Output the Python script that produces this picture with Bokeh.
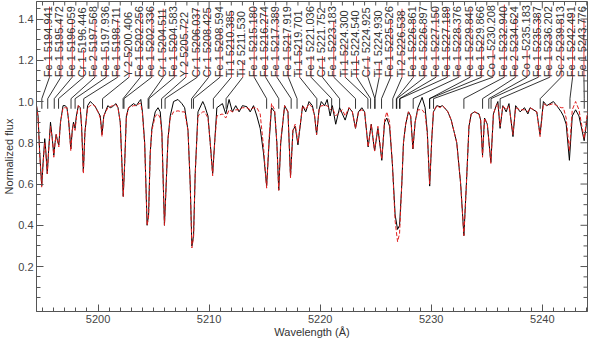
import numpy as np
from bokeh.plotting import figure
from bokeh.models import (Range1d, FixedTicker, SingleIntervalTicker,
                          PrintfTickFormatter, ColumnDataSource)
from bokeh.core.properties import value
from bokeh.embed import file_html
from bokeh.resources import INLINE

# ---------------- data ----------------
wavelength = [
    5194.46, 5194.60, 5194.75, 5194.93, 5195.05, 5195.20, 5195.30, 5195.43, 5195.55, 5195.72,
    5195.88, 5196.02, 5196.13, 5196.23, 5196.35, 5196.47, 5196.62, 5196.85, 5197.05, 5197.20,
    5197.35, 5197.55, 5197.68, 5197.79, 5197.93, 5198.05, 5198.23, 5198.40, 5198.52, 5198.68,
    5198.82, 5199.06, 5199.30, 5199.50, 5199.70, 5200.00, 5200.20, 5200.36, 5200.52, 5200.88,
    5201.10, 5201.30, 5201.62, 5201.80, 5202.00, 5202.15, 5202.27, 5202.40, 5202.55, 5202.75,
    5203.20, 5203.45, 5203.70, 5203.85, 5204.00, 5204.20, 5204.42, 5204.55, 5204.70, 5204.85,
    5205.15, 5205.40, 5205.60, 5205.75, 5205.90, 5205.98, 5206.10, 5206.30, 5206.50, 5206.80,
    5207.20, 5207.55, 5207.80, 5208.10, 5208.30, 5208.45, 5208.60, 5208.75, 5209.00, 5209.43,
    5209.60, 5209.90, 5210.10, 5210.32, 5210.50, 5210.70, 5211.20, 5211.50, 5211.80, 5212.10,
    5212.40, 5212.70, 5213.00, 5213.40, 5213.70, 5214.00, 5214.30, 5214.60, 5214.90, 5215.18,
    5215.40, 5215.62, 5215.90, 5216.10, 5216.27, 5216.45, 5216.80, 5217.10, 5217.33, 5217.55,
    5217.75, 5218.00, 5218.42, 5218.70, 5219.00, 5219.30, 5219.50, 5219.68, 5219.90, 5220.10,
    5220.40, 5220.63, 5220.90, 5221.10, 5221.40, 5221.75, 5222.00, 5222.25, 5222.60, 5222.90,
    5223.18, 5223.45, 5223.75, 5224.00, 5224.32, 5224.60, 5224.90, 5225.20, 5225.55, 5225.80,
    5226.00, 5226.25, 5226.50, 5226.75, 5226.97, 5227.15, 5227.35, 5227.50, 5227.70, 5227.95,
    5228.15, 5228.35, 5228.55, 5228.80, 5229.18, 5229.45, 5229.65, 5229.86, 5230.05, 5230.20,
    5230.50, 5230.80, 5231.00, 5231.20, 5231.50, 5231.80, 5232.30, 5232.65, 5232.94, 5233.15,
    5233.40, 5233.60, 5233.90, 5234.30, 5234.45, 5234.62, 5234.80, 5235.05, 5235.37, 5235.60,
    5235.85, 5236.00, 5236.20, 5236.45, 5236.75, 5237.00, 5237.36, 5237.60, 5238.00, 5238.40,
    5238.70, 5238.90, 5239.50, 5239.80, 5240.10, 5240.40, 5241.00, 5241.30, 5241.70, 5241.90,
    5242.15, 5242.44, 5242.70, 5243.00, 5243.30, 5243.50, 5243.77, 5244.07,
]
observed_flux = [
    0.98, 0.93, 0.75, 0.59, 0.70, 0.82, 0.76, 0.65, 0.76, 0.90,
    0.82, 0.74, 0.80, 0.84, 0.81, 0.79, 0.90, 0.98, 0.98, 0.97,
    0.91, 0.77, 0.86, 0.90, 0.87, 0.93, 0.98, 0.97, 0.88, 0.66,
    0.85, 0.98, 1.00, 0.99, 0.98, 0.95, 0.93, 0.84, 0.93, 0.98,
    0.97, 0.975, 0.99, 0.97, 0.90, 0.70, 0.54, 0.70, 0.93, 0.97,
    0.99, 0.98, 1.00, 1.01, 0.95, 0.80, 0.40, 0.45, 0.75, 0.87,
    0.95, 0.97, 0.95, 0.85, 0.55, 0.40, 0.55, 0.82, 0.93, 1.00,
    1.01, 0.99, 0.97, 0.86, 0.60, 0.30, 0.35, 0.65, 0.95, 1.00,
    0.98, 0.93, 0.80, 0.65, 0.80, 0.97, 0.99, 0.94, 1.01, 0.95,
    0.98, 0.95, 0.98, 0.975, 0.95, 0.98, 0.93, 0.87, 0.75, 0.59,
    0.80, 0.97, 0.95, 0.80, 0.57, 0.80, 0.98, 0.95, 0.635, 0.86,
    0.88, 0.79, 0.98, 0.95, 1.00, 0.98, 0.93, 0.84, 0.96, 1.00,
    0.98, 1.01, 0.93, 0.98, 0.89, 0.97, 0.94, 0.91, 0.97, 0.95,
    0.87, 0.95, 0.97, 0.95, 0.78, 0.89, 0.76, 0.87, 0.715, 0.90,
    0.92, 0.88, 0.70, 0.45, 0.38, 0.40, 0.60, 0.80, 0.89, 0.95,
    0.93, 0.77, 0.90, 0.97, 1.02, 0.97, 0.85, 0.59, 0.82, 0.95,
    0.98, 0.975, 0.98, 0.97, 0.95, 0.91, 0.80, 0.60, 0.35, 0.58,
    0.88, 0.94, 0.95, 0.94, 0.91, 0.74, 0.92, 0.89, 0.705, 0.94,
    0.98, 1.00, 0.87, 0.98, 0.95, 0.99, 0.83, 0.98, 0.95, 0.97,
    0.94, 0.97, 0.95, 0.84, 1.00, 0.98, 1.00, 0.98, 0.95, 0.93,
    0.89, 0.715, 0.93, 0.96, 0.93, 0.88, 0.81, 0.93,
]
model_flux = [
    0.98, 0.92, 0.74, 0.585, 0.70, 0.80, 0.75, 0.65, 0.76, 0.88,
    0.82, 0.73, 0.80, 0.84, 0.81, 0.78, 0.90, 0.97, 0.97, 0.97,
    0.91, 0.76, 0.86, 0.89, 0.86, 0.92, 0.98, 0.97, 0.88, 0.65,
    0.85, 0.97, 0.98, 0.985, 0.98, 0.95, 0.92, 0.83, 0.93, 0.97,
    0.975, 0.98, 0.985, 0.97, 0.90, 0.70, 0.54, 0.70, 0.92, 0.97,
    0.98, 0.98, 0.99, 0.99, 0.94, 0.79, 0.40, 0.44, 0.75, 0.86,
    0.93, 0.94, 0.92, 0.84, 0.55, 0.40, 0.55, 0.82, 0.92, 0.95,
    0.955, 0.95, 0.95, 0.86, 0.60, 0.29, 0.34, 0.65, 0.93, 0.95,
    0.95, 0.92, 0.80, 0.64, 0.80, 0.93, 0.94, 0.92, 0.96, 0.95,
    0.96, 0.96, 0.97, 0.97, 0.96, 0.97, 0.97, 0.94, 0.78, 0.58,
    0.82, 0.99, 0.96, 0.80, 0.57, 0.81, 0.98, 0.95, 0.63, 0.86,
    0.89, 0.80, 0.98, 0.96, 0.99, 0.97, 0.93, 0.84, 0.96, 0.98,
    0.98, 0.98, 0.96, 0.97, 0.93, 0.95, 0.96, 0.93, 0.97, 0.95,
    0.87, 0.95, 0.96, 0.95, 0.78, 0.89, 0.76, 0.88, 0.72, 0.91,
    0.95, 0.90, 0.70, 0.42, 0.32, 0.36, 0.60, 0.80, 0.89, 0.95,
    0.93, 0.77, 0.90, 0.96, 0.96, 0.94, 0.84, 0.60, 0.82, 0.95,
    0.98, 0.97, 0.98, 0.97, 0.95, 0.91, 0.80, 0.60, 0.35, 0.58,
    0.88, 0.94, 0.95, 0.94, 0.91, 0.73, 0.92, 0.89, 0.70, 0.94,
    0.98, 0.99, 0.88, 0.98, 0.96, 0.98, 0.84, 0.97, 0.96, 0.96,
    0.95, 0.97, 0.95, 0.83, 0.99, 0.98, 0.99, 0.98, 0.97, 0.97,
    0.92, 0.76, 0.96, 1.00, 0.96, 0.90, 0.82, 0.95,
]

line_species = [
    "Fe 1", "Fe 1", "Fe 1", "Cr 1", "Fe 2", "Fe 1", "Fe 1", "Y 2", "Fe 1", "Fe 1",
    "Cr 1", "Fe 1", "Y 2", "Cr 1", "Cr 1", "Fe 1", "Ti 1", "Ti 2", "Fe 1", "Fe 1",
    "Fe 1", "Fe 1", "Ti 1", "Fe 1", "Cr 1", "Fe 1", "Ti 1", "Ti 1", "Cr 1", "Ti 1",
    "Fe 1", "Ti 2", "Fe 1", "Fe 1", "Fe 1", "Fe 1", "Fe 1", "Fe 1", "Fe 1", "Co 1",
    "Fe 1", "Fe 2", "Co 1", "Fe 1", "Fe 1", "Sc 2", "Fe 1", "Fe 1",
]
line_wavelength = [
    5194.941, 5195.472, 5196.059, 5196.446, 5197.568, 5197.936, 5198.711, 5200.406, 5202.256, 5202.336,
    5204.511, 5204.583, 5205.722, 5206.037, 5208.425, 5208.594, 5210.385, 5211.530, 5215.180, 5216.274,
    5217.389, 5217.919, 5219.701, 5221.036, 5221.752, 5223.183, 5224.300, 5224.540, 5224.925, 5224.930,
    5225.526, 5226.538, 5226.861, 5226.897, 5227.150, 5227.189, 5228.376, 5229.845, 5229.866, 5230.208,
    5232.940, 5234.624, 5235.183, 5235.387, 5236.202, 5239.813, 5242.491, 5243.776,
]
# top end of the red marker above each label
line_marker_top = [
    1.46, 1.40, 1.40, 1.25, 1.40, 1.25, 1.40, 1.26, 1.43, 1.45,
    1.45, 1.33, 1.38, 1.45, 1.45, 1.35, 1.44, 1.20, 1.46, 1.44,
    1.44, 1.33, 1.27, 1.22, 1.22, 1.39, 1.28, 1.22, 1.22, 1.19,
    1.40, 1.45, 1.40, 1.38, 1.45, 1.45, 1.38, 1.45, 1.30, 1.25,
    1.47, 1.42, 1.25, 1.42, 1.33, 1.40, 1.43, 1.40,
]

x_tick_interval = 10
y_tick_values = [0.2, 0.4, 0.6, 0.8, 1.0, 1.2, 1.4]

# ---------------- layout constants ----------------
X_MIN, X_MAX = 5194.46, 5244.07
Y_MIN, Y_MAX = -0.018, 1.485
LAB_FIRST, LAB_LAST = 5195.63, 5243.75
LAB_Y = 1.118       # bottom of labels
TICK_TOP = 1.014    # where connector reaches the line position
TICK_BOT = 0.965    # bottom of the short vertical tick

n = len(line_wavelength)
lab_x = np.linspace(LAB_FIRST, LAB_LAST, n)
labels = [f"{s} {w:.3f}" for s, w in zip(line_species, line_wavelength)]

FONT = "Liberation Sans"
AX_COL = "#555555"

p = figure(width=592, height=340, output_backend="svg", toolbar_location=None,
           x_range=Range1d(X_MIN, X_MAX), y_range=Range1d(Y_MIN, Y_MAX),
           min_border_left=28, min_border_right=5, min_border_top=1, min_border_bottom=29,
           background_fill_color="white", border_fill_color="white")
p.grid.visible = False
p.outline_line_color = AX_COL

# spectra
p.line(wavelength, observed_flux, line_color="black", line_width=1)
p.line(wavelength, model_flux, line_color="#e02020", line_width=1, line_dash="4 2")

# connectors
xs = [[lx, lw, lw] for lx, lw in zip(lab_x, line_wavelength)]
ys = [[LAB_Y, TICK_TOP, TICK_BOT] for _ in range(n)]
p.multi_line(xs, ys, line_color="black", line_width=0.8)

# red markers
p.segment(x0=lab_x, y0=[LAB_Y] * n, x1=lab_x, y1=line_marker_top,
          line_color="#e03a3a", line_width=1)

# labels
src = ColumnDataSource(dict(x=lab_x, y=[LAB_Y] * n, text=labels))
p.text(x="x", y="y", text="text", source=src, angle=np.pi / 2,
       text_align="left", text_baseline="alphabetic", x_offset=-1.5,
       text_font=value(FONT), text_font_size="11px", text_color="#333333")

# axes (bottom / left)
ymin_ticks = [round(v, 2) for v in np.arange(0.05, 1.4801, 0.05)]


def style(ax):
    ax.axis_line_color = AX_COL
    ax.major_tick_line_color = AX_COL
    ax.minor_tick_line_color = AX_COL
    ax.major_tick_in = 7
    ax.major_tick_out = 0
    ax.minor_tick_in = 4
    ax.minor_tick_out = 0
    ax.major_label_text_font = FONT
    ax.major_label_text_color = "#444444"
    ax.major_label_text_font_size = "11px"
    ax.major_label_standoff = 3
    ax.axis_label_text_font = FONT
    ax.axis_label_text_font_style = "normal"
    ax.axis_label_text_color = "#333333"
    ax.axis_label_text_font_size = "11px"
    ax.axis_label_standoff = 0


p.xaxis.ticker = SingleIntervalTicker(interval=x_tick_interval, num_minor_ticks=10)
p.xaxis.axis_label = "Wavelength (Å)"
style(p.xaxis[0])
p.yaxis.ticker = FixedTicker(ticks=y_tick_values, minor_ticks=ymin_ticks)
p.yaxis.formatter = PrintfTickFormatter(format="%.1f")
p.yaxis.axis_label = "Normalized flux"
style(p.yaxis[0])

# mirrored ticks on the top and right frame edges (no labels)
x_major = np.arange(5200, X_MAX, x_tick_interval)
x_minor = [v for v in np.arange(np.ceil(X_MIN), X_MAX, 1.0) if v % x_tick_interval != 0]
p.ray(x=x_major, y=Y_MAX, length=7, length_units="screen", angle=-np.pi / 2,
      line_color=AX_COL, line_width=1)
p.ray(x=x_minor, y=Y_MAX, length=4, length_units="screen", angle=-np.pi / 2,
      line_color=AX_COL, line_width=1)
p.ray(x=X_MAX, y=y_tick_values, length=7, length_units="screen", angle=np.pi,
      line_color=AX_COL, line_width=1)
p.ray(x=X_MAX, y=[v for v in ymin_ticks if v not in y_tick_values], length=4,
      length_units="screen", angle=np.pi, line_color=AX_COL, line_width=1)

html = file_html(p, INLINE)
open("out.html", "w").write(html)
